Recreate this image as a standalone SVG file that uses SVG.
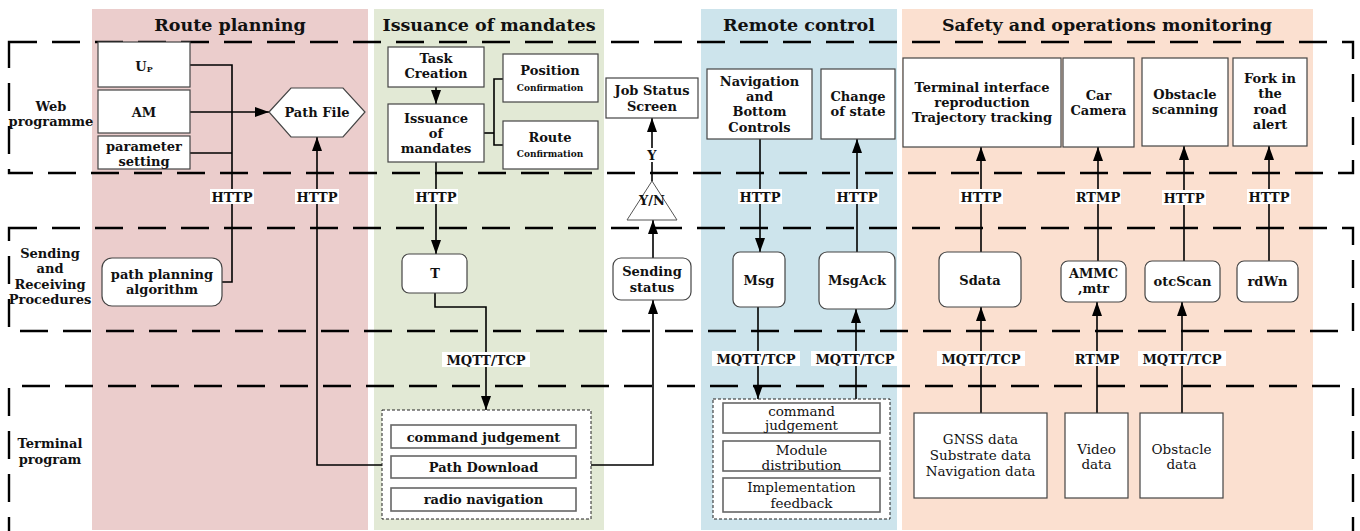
<svg xmlns="http://www.w3.org/2000/svg" width="1360" height="531" viewBox="0 0 1360 531">
  <defs>
    <marker id="arrow" viewBox="0 0 14 10" refX="14" refY="5" markerWidth="14" markerHeight="10" markerUnits="userSpaceOnUse" orient="auto">
      <path d="M0,0 L14,5 L0,10 z" fill="#000"/>
    </marker>
    <style>
      .t { font-family: "DejaVu Serif", "Liberation Serif", serif; font-weight: bold; font-size: 13px; text-anchor: middle; fill: #111; }
      .tr { font-family: "DejaVu Serif", "Liberation Serif", serif; font-weight: normal; font-size: 13.5px; text-anchor: middle; fill: #111; }
      .title { font-size: 17.5px; }
      .small { font-size: 9px; }
      .zone { fill: none; stroke: #000; stroke-width: 2.4; stroke-dasharray: 28 15; }
      .box { fill: #fff; stroke: #444; stroke-width: 1.2; }
      .inner { fill: #fff; stroke: #666; stroke-width: 1.6; }
      .group { fill: #fff; stroke: #222; stroke-width: 1; stroke-dasharray: 3 2; }
      .conn { fill: none; stroke: #000; stroke-width: 1.6; }
      .arr { marker-end: url(#arrow); }
      .lblbg { fill: #fff; }
    </style>
  </defs>

  <!-- column backgrounds -->
  <g id="columns">
    <rect x="92" y="9" width="276" height="521" fill="#ebcdcc"/>
    <rect x="374" y="9" width="230" height="521" fill="#e2e9d5"/>
    <rect x="701" y="9" width="196" height="521" fill="#cde4ec"/>
    <rect x="902" y="9" width="411" height="521" fill="#fbe0d0"/>
    <text class="t title" x="230" y="31">Route planning</text>
    <text class="t title" x="489" y="31">Issuance of mandates</text>
    <text class="t title" x="799" y="31">Remote control</text>
    <text class="t title" x="1107" y="31">Safety and operations monitoring</text>
  </g>

  <!-- layer frames -->
  <g id="layers">
    <rect class="zone" x="9" y="42" width="1344" height="131"/>
    <rect class="zone" x="9" y="228" width="1344" height="103"/>
    <path class="zone" d="M9,545 V386 H1353 V545"/>
    <text class="t" x="51" y="110.5">Web</text>
    <text class="t" x="51" y="125.5">programme</text>
    <text class="t" x="50" y="257.5">Sending</text>
    <text class="t" x="50" y="273">and</text>
    <text class="t" x="50" y="288.5">Receiving</text>
    <text class="t" x="50" y="304">Procedures</text>
    <text class="t" x="50" y="448">Terminal</text>
    <text class="t" x="50" y="464">program</text>
  </g>

  <!-- connectors -->
  <g id="connectors">
    <path class="conn" d="M190,65 H232 V282 H221"/>
    <path class="conn" d="M190,153 H232"/>
    <path class="conn arr" d="M190,112 H269"/>
    <path class="conn arr" d="M382,465 H317 V137"/>
    <path class="conn arr" d="M436,87 V104"/>
    <path class="conn" d="M484,133 H494"/>
    <path class="conn" d="M503,79 H494 V145 H503"/>
    <path class="conn arr" d="M436,162 V254"/>
    <path class="conn arr" d="M435,293 V307 H486 V410"/>
    <path class="conn arr" d="M591,465 H653 V300"/>
    <path class="conn arr" d="M653,258 V220"/>
    <path class="conn arr" d="M652,181 V118"/>
    <path class="conn arr" d="M760,139 V252"/>
    <path class="conn arr" d="M857,252 V139"/>
    <path class="conn arr" d="M758,307 V399"/>
    <path class="conn arr" d="M856,399 V309"/>
    <path class="conn arr" d="M981,252 V147"/>
    <path class="conn arr" d="M1098,261 V147"/>
    <path class="conn arr" d="M1184,261 V146"/>
    <path class="conn arr" d="M1269,261 V146"/>
    <path class="conn arr" d="M981,413 V307"/>
    <path class="conn arr" d="M1097,413 V302"/>
    <path class="conn arr" d="M1182,413 V302"/>

    <!-- protocol labels -->
    <g id="protocols">
      <rect class="lblbg" x="210" y="189" width="44" height="15"/>
      <text class="t" x="232" y="201.5">HTTP</text>
      <rect class="lblbg" x="295" y="189" width="44" height="15"/>
      <text class="t" x="317" y="201.5">HTTP</text>
      <rect class="lblbg" x="414" y="189" width="44" height="15"/>
      <text class="t" x="436" y="201.5">HTTP</text>
      <rect class="lblbg" x="738" y="189" width="44" height="15"/>
      <text class="t" x="760" y="201.5">HTTP</text>
      <rect class="lblbg" x="835" y="189" width="44" height="15"/>
      <text class="t" x="857" y="201.5">HTTP</text>
      <rect class="lblbg" x="959" y="189" width="44" height="15"/>
      <text class="t" x="981" y="201.5">HTTP</text>
      <rect class="lblbg" x="1075" y="189" width="46" height="15"/>
      <text class="t" x="1098" y="201.5">RTMP</text>
      <rect class="lblbg" x="1162" y="190" width="44" height="15"/>
      <text class="t" x="1184" y="202.5">HTTP</text>
      <rect class="lblbg" x="1247" y="189" width="44" height="15"/>
      <text class="t" x="1269" y="201.5">HTTP</text>

      <rect class="lblbg" x="442" y="352" width="88" height="15"/>
      <text class="t" x="486" y="364.5">MQTT/TCP</text>
      <rect class="lblbg" x="712" y="351" width="88" height="15"/>
      <text class="t" x="756" y="363.5">MQTT/TCP</text>
      <rect class="lblbg" x="811" y="351" width="88" height="15"/>
      <text class="t" x="855" y="363.5">MQTT/TCP</text>
      <rect class="lblbg" x="937" y="351" width="88" height="15"/>
      <text class="t" x="981" y="363.5">MQTT/TCP</text>
      <rect class="lblbg" x="1074" y="351" width="46" height="15"/>
      <text class="t" x="1097" y="363.5">RTMP</text>
      <rect class="lblbg" x="1138" y="351" width="88" height="15"/>
      <text class="t" x="1182" y="363.5">MQTT/TCP</text>
      <rect class="lblbg" x="645" y="148" width="14" height="14"/>
      <text class="t" x="652" y="159.5">Y</text>
    </g>
  </g>

  <!-- route planning -->
  <g id="node-up">
    <rect class="box" x="98" y="42" width="92" height="45"/>
    <text class="t" x="144" y="70.5">U<tspan font-size="8" dy="1">P</tspan></text>
  </g>
  <g id="node-am">
    <rect class="box" x="98" y="90" width="92" height="43"/>
    <text class="t" x="144" y="116.5">AM</text>
  </g>
  <g id="node-parameter">
    <rect class="box" x="98" y="136" width="92" height="33"/>
    <text class="t" x="144" y="150.5">parameter</text>
    <text class="t" x="144" y="166">setting</text>
  </g>
  <g id="node-pathfile">
    <polygon class="box" points="269,112 291,88 343,88 365,112 343,137 291,137"/>
    <text class="t" x="317" y="116.5">Path File</text>
  </g>
  <g id="node-algorithm">
    <rect class="box" x="102" y="258" width="120" height="48" rx="10"/>
    <text class="t" x="162" y="278.5">path planning</text>
    <text class="t" x="162" y="293.5">algorithm</text>
  </g>

  <!-- issuance of mandates -->
  <g id="node-task">
    <rect class="box" x="388" y="47" width="96" height="40"/>
    <text class="t" x="436" y="63">Task</text>
    <text class="t" x="436" y="78">Creation</text>
  </g>
  <g id="node-issuance">
    <rect class="box" x="388" y="104" width="96" height="58"/>
    <text class="t" x="436" y="122.5">Issuance</text>
    <text class="t" x="436" y="137.5">of</text>
    <text class="t" x="436" y="152.5">mandates</text>
  </g>
  <g id="node-position">
    <rect class="box" x="503" y="54" width="95" height="48"/>
    <text class="t" x="550" y="74.5">Position</text>
    <text class="t small" x="550" y="91">Confirmation</text>
  </g>
  <g id="node-route">
    <rect class="box" x="503" y="121" width="95" height="48"/>
    <text class="t" x="550" y="141.5">Route</text>
    <text class="t small" x="550" y="157">Confirmation</text>
  </g>
  <g id="node-t">
    <rect class="box" x="402" y="254" width="65" height="39" rx="7"/>
    <text class="t" x="435" y="277.5">T</text>
  </g>
  <g id="node-terminal-tasks">
    <rect class="group" x="382" y="410" width="209" height="109"/>
    <rect class="inner" x="391" y="425" width="185" height="23"/>
    <text class="t" x="483.5" y="441.5">command judgement</text>
    <rect class="inner" x="391" y="456" width="185" height="22"/>
    <text class="t" x="483.5" y="471.5">Path Download</text>
    <rect class="inner" x="391" y="488" width="185" height="23"/>
    <text class="t" x="483.5" y="503.5">radio navigation</text>
  </g>

  <!-- status feedback -->
  <g id="node-jobstatus">
    <rect class="box" x="606" y="78" width="92" height="40"/>
    <text class="t" x="652" y="95">Job Status</text>
    <text class="t" x="652" y="110.5">Screen</text>
  </g>
  <g id="node-yn">
    <polygon points="652,181 627,220 677,220" fill="#fff" stroke="#555" stroke-width="1"/>
    <text class="t" x="652" y="205">Y/N</text>
  </g>
  <g id="node-sending">
    <rect class="box" x="613" y="258" width="78" height="42" rx="8"/>
    <text class="t" x="652" y="275.5">Sending</text>
    <text class="t" x="652" y="291.5">status</text>
  </g>

  <!-- remote control -->
  <g id="node-navigation">
    <rect class="box" x="707" y="69" width="105" height="70"/>
    <text class="t" x="759.5" y="85.5">Navigation</text>
    <text class="t" x="759.5" y="100.5">and</text>
    <text class="t" x="759.5" y="115.5">Bottom</text>
    <text class="t" x="759.5" y="131.5">Controls</text>
  </g>
  <g id="node-change">
    <rect class="box" x="821" y="69" width="74" height="70"/>
    <text class="t" x="858" y="100.5">Change</text>
    <text class="t" x="858" y="115.5">of state</text>
  </g>
  <g id="node-msg">
    <rect class="box" x="733" y="252" width="52" height="55" rx="7"/>
    <text class="t" x="759" y="285">Msg</text>
  </g>
  <g id="node-msgack">
    <rect class="box" x="819" y="252" width="76" height="57" rx="8"/>
    <text class="t" x="857" y="285">MsgAck</text>
  </g>
  <g id="node-terminal-control">
    <rect class="group" x="713" y="399" width="177" height="120"/>
    <rect class="inner" x="723" y="403" width="157" height="30"/>
    <text class="tr" x="801.5" y="415.5">command</text>
    <text class="tr" x="801.5" y="430">judgement</text>
    <rect class="inner" x="723" y="441" width="157" height="30"/>
    <text class="tr" x="801.5" y="454.5">Module</text>
    <text class="tr" x="801.5" y="470">distribution</text>
    <rect class="inner" x="723" y="478" width="157" height="34"/>
    <text class="tr" x="801.5" y="491.5">Implementation</text>
    <text class="tr" x="801.5" y="507.5">feedback</text>
  </g>

  <!-- safety and operations monitoring -->
  <g id="node-interface">
    <rect class="box" x="903" y="58" width="158" height="89"/>
    <text class="t" x="982" y="91.5">Terminal interface</text>
    <text class="t" x="982" y="106.5">reproduction</text>
    <text class="t" x="982" y="121.5">Trajectory tracking</text>
  </g>
  <g id="node-camera">
    <rect class="box" x="1063" y="58" width="71" height="89"/>
    <text class="t" x="1098.5" y="99.5">Car</text>
    <text class="t" x="1098.5" y="114.5">Camera</text>
  </g>
  <g id="node-obstacle-scan">
    <rect class="box" x="1142" y="58" width="86" height="88"/>
    <text class="t" x="1185" y="98.5">Obstacle</text>
    <text class="t" x="1185" y="113.5">scanning</text>
  </g>
  <g id="node-fork">
    <rect class="box" x="1233" y="58" width="74" height="88"/>
    <text class="t" x="1270" y="82.5">Fork in</text>
    <text class="t" x="1270" y="98">the</text>
    <text class="t" x="1270" y="113.5">road</text>
    <text class="t" x="1270" y="129">alert</text>
  </g>
  <g id="node-sdata">
    <rect class="box" x="939" y="252" width="82" height="55" rx="8"/>
    <text class="t" x="980" y="284.5">Sdata</text>
  </g>
  <g id="node-ammc">
    <rect class="box" x="1061" y="261" width="65" height="41" rx="7"/>
    <text class="t" x="1093.5" y="278">AMMC</text>
    <text class="t" x="1093.5" y="293">,mtr</text>
  </g>
  <g id="node-otcscan">
    <rect class="box" x="1145" y="261" width="75" height="41" rx="7"/>
    <text class="t" x="1182.5" y="285.5">otcScan</text>
  </g>
  <g id="node-rdwn">
    <rect class="box" x="1237" y="261" width="61" height="41" rx="7"/>
    <text class="t" x="1267.5" y="285.5">rdWn</text>
  </g>
  <g id="node-gnss">
    <rect class="box" x="914" y="413" width="133" height="85"/>
    <text class="tr" x="980.5" y="443.5">GNSS data</text>
    <text class="tr" x="980.5" y="459.5">Substrate data</text>
    <text class="tr" x="980.5" y="475.5">Navigation data</text>
  </g>
  <g id="node-video">
    <rect class="box" x="1065" y="413" width="63" height="85"/>
    <text class="tr" x="1096.5" y="453.5">Video</text>
    <text class="tr" x="1096.5" y="468.5">data</text>
  </g>
  <g id="node-obstacle-data">
    <rect class="box" x="1140" y="413" width="83" height="85"/>
    <text class="tr" x="1181.5" y="453.5">Obstacle</text>
    <text class="tr" x="1181.5" y="468.5">data</text>
  </g>
</svg>
